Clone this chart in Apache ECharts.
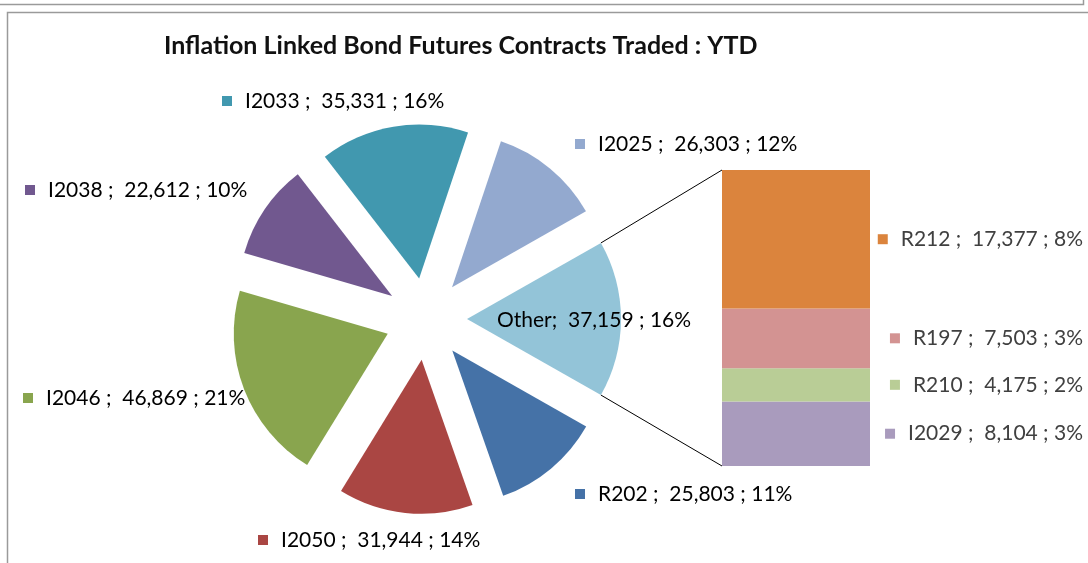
<!DOCTYPE html>
<html>
<head>
<meta charset="utf-8">
<script src="https://cdn.jsdelivr.net/npm/echarts@6/dist/echarts.min.js"></script>
<style>
html,body{margin:0;padding:0;background:#fff;}
#chart{width:1088px;height:563px;}
</style>
</head>
<body>
<div id="chart"></div>
<script>
// ---- data ----
const titleText = 'Inflation Linked Bond Futures Contracts Traded : YTD';
const pieNames  = ['Other', 'R202', 'I2050', 'I2046', 'I2038', 'I2033', 'I2025'];
const pieValues = [37159, 25803, 31944, 46869, 22612, 35331, 26303];
const piePct    = [16, 11, 14, 21, 10, 16, 12];
const pieColors = ['#93C4D8', '#4572A7', '#AA4643', '#89A54E', '#71588F', '#4198AF', '#93A9CF'];
const barNames  = ['I2029', 'R210', 'R197', 'R212'];
const barValues = [8104, 4175, 7503, 17377];
const barPct    = [3, 2, 3, 8];
const barColors = ['#A99BBD', '#B9CD96', '#D39392', '#DB843D'];

// ---- layout / style ----
const FONT = 'Lato';
const FS = 21;
const TXT = '#404040';
const pieCenter = [426, 319];
const pieRadius = 154;
const explode = 41;
const gridBox = {left: 722, top: 170, width: 148, height: 296};
// label anchor positions for pie labels (by name), left-aligned, vertical middle
const pieLabelPos = {
  'Other': {x: 497, y: 320},
  'R202':  {x: 575, y: 494},
  'I2050': {x: 258, y: 540},
  'I2046': {x: 23,  y: 398},
  'I2038': {x: 25,  y: 190},
  'I2033': {x: 222, y: 101},
  'I2025': {x: 575, y: 144}
};
const barLabelRight = 1083;

const fmt = v => v.toLocaleString('en-US');
const pieTotal = pieValues.reduce((a, b) => a + b, 0);
const barTotal = barValues.reduce((a, b) => a + b, 0);
const startAngle = 360 * pieValues[0] / pieTotal / 2;

const rich = {
  s: {width: 13},
  t: {fontFamily: FONT, fontSize: FS, color: TXT}
};
pieColors.forEach((c, i) => { rich['p' + i] = {width: 10, height: 10, backgroundColor: c}; });
barColors.forEach((c, i) => { rich['b' + i] = {width: 10, height: 10, backgroundColor: c}; });

const pieText = (i) => i === 0
  ? '{t|' + pieNames[i] + ';  ' + fmt(pieValues[i]) + ' ; ' + piePct[i] + '%}'
  : '{p' + i + '|}{s|}{t|' + pieNames[i] + ' ;  ' + fmt(pieValues[i]) + ' ; ' + piePct[i] + '%}';

const pieData = pieNames.map((n, i) => ({
  name: n, value: pieValues[i], selected: true,
  itemStyle: {color: pieColors[i]}
}));

const barSeries = barNames.map((n, i) => ({
  type: 'bar', name: n, stack: 'other',
  data: [barValues[i]],
  barWidth: '100%',
  itemStyle: {color: barColors[i]},
  label: {
    show: true, position: 'right', rich: rich,
    formatter: '{b' + i + '|}{s|}{t|' + n + ' ;  ' + fmt(barValues[i]) + ' ; ' + barPct[i] + '%}'
  },
  labelLayout: {x: barLabelRight, align: 'right', verticalAlign: 'middle'},
  emphasis: {disabled: true},
  silent: true
}));

const chart = echarts.init(document.getElementById('chart'), null, {renderer: 'canvas'});
const option = {
  animation: false,
  backgroundColor: '#fff',
  title: {
    text: titleText, left: 159, top: 28,
    textStyle: {fontFamily: FONT, fontWeight: 'bold', fontSize: 25, color: '#111'}
  },
  grid: Object.assign({containLabel: false}, gridBox),
  xAxis: {type: 'category', data: ['Other'], show: false, boundaryGap: true},
  yAxis: {type: 'value', min: 0, max: barTotal, show: false},
  series: [{
    type: 'pie',
    center: pieCenter,
    radius: pieRadius,
    startAngle: startAngle,
    clockwise: true,
    selectedMode: 'multiple',
    selectedOffset: explode,
    avoidLabelOverlap: false,
    emphasis: {disabled: true},
    silent: true,
    label: {show: false},
    labelLine: {show: false},
    data: pieData
  }].concat(barSeries)
};
chart.setOption(option);

// pie data labels
const pieLabels = pieNames.map((n, i) => ({
  type: 'text', x: pieLabelPos[n].x, y: pieLabelPos[n].y, silent: true, z: 100,
  style: {text: pieText(i), rich: rich, align: 'left', verticalAlign: 'middle'}
}));

// connector lines from the exploded "Other" slice to the bar
const a1 = startAngle * Math.PI / 180;
const apex = [pieCenter[0] + explode, pieCenter[1]];
const pTop = [apex[0] + pieRadius * Math.cos(a1), apex[1] - pieRadius * Math.sin(a1)];
const pBot = [apex[0] + pieRadius * Math.cos(a1), apex[1] + pieRadius * Math.sin(a1)];
const yTop = chart.convertToPixel({yAxisIndex: 0}, barTotal);
const yBot = chart.convertToPixel({yAxisIndex: 0}, 0);
const xL = gridBox.left;
const lineStyle = {stroke: '#000', lineWidth: 1};
chart.setOption({
  graphic: [
    {type: 'line', shape: {x1: pTop[0], y1: pTop[1], x2: xL, y2: yTop}, style: lineStyle, silent: true},
    {type: 'line', shape: {x1: pBot[0], y1: pBot[1], x2: xL, y2: yBot}, style: lineStyle, silent: true},
    // frame
    {type: 'polyline', shape: {points: [[0, 4.5], [1083.5, 4.5], [1083.5, 0]]}, style: {stroke: '#9a9a9a', lineWidth: 1.5, fill: null}, silent: true},
    {type: 'polyline', shape: {points: [[1088, 12.5], [7.5, 12.5], [7.5, 563]]}, style: {stroke: '#9a9a9a', lineWidth: 1.5, fill: null}, silent: true}
  ].concat(pieLabels)
});
</script>
</body>
</html>
